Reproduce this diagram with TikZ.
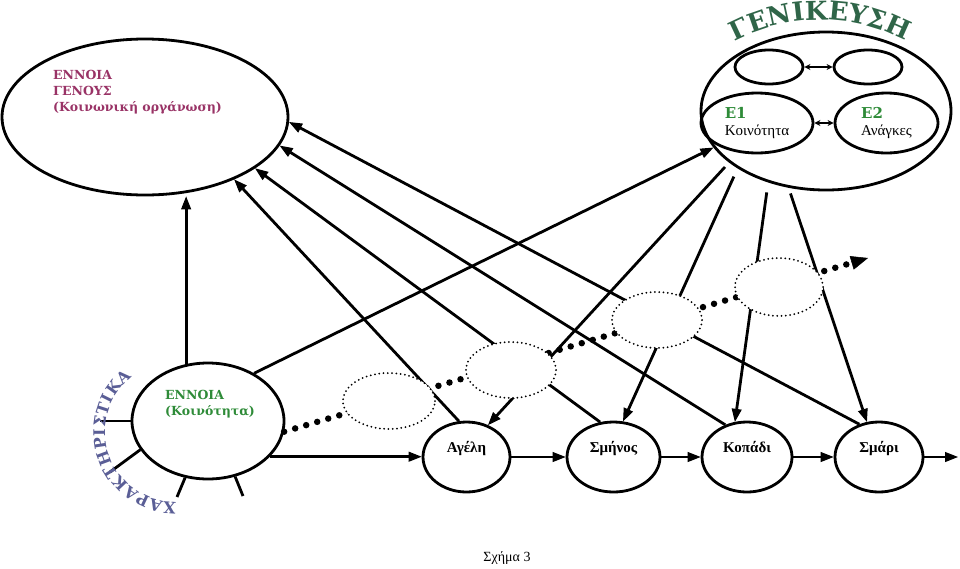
\documentclass[tikz,border=0pt]{standalone}
\usepackage{fontspec}
\setmainfont{Liberation Serif}
\newfontfamily\bkfont{DejaVu Serif}
\usetikzlibrary{shapes.geometric,arrows.meta,decorations.text}

\definecolor{genpurple}{HTML}{993366}
\definecolor{koingreen}{HTML}{2E8B38}
\definecolor{ghgreen}{HTML}{2F6548}
\definecolor{featblue}{HTML}{5A5E96}

\newcommand\ghfont{\bkfont\bfseries\fontsize{26}{26}\selectfont\color{ghgreen}}
\newcommand\featfont{\bkfont\bfseries\fontsize{16}{16}\selectfont\color{featblue}}

\begin{document}
\begin{tikzpicture}[x=1pt,y=-1pt,
    ell/.style={ellipse,draw,line width=2.8pt,inner sep=0pt},
    dotell/.style={ellipse,draw,fill=white,line width=2pt,dash pattern=on 0pt off 4.3pt,
        line cap=round,inner sep=0pt,minimum width=90pt,minimum height=56pt},
    arr/.style={line width=2.8pt,-{Triangle[length=13pt,width=10pt,line width=1pt]}},
    spoke/.style={line width=2.8pt},
    twoway/.style={line width=2pt,{Stealth[length=6pt,width=6pt]}-{Stealth[length=6pt,width=6pt]}},
    kind/.style={ell,minimum height=70pt,font=\fontsize{15}{18}\selectfont\bfseries,
        text height=10pt,text depth=20pt},
    headtext/.style={inner sep=0pt,align=left,anchor=north west,
        font=\bkfont\bfseries\fontsize{12.5}{16}\selectfont}
]
    \useasboundingbox (0,0) rectangle (960,568);

    \node[ell,minimum width=286pt,minimum height=156pt] (gen) at (145,117) {};
    \node[headtext,text=genpurple] (genT) at (53,70.5)
        {ΕΝΝΟΙΑ\\ΓΕΝΟΥΣ\\(Κοινωνική οργάνωση)};

    \node[ell,minimum width=250pt,minimum height=158pt] (ghl) at (826,111) {};
    \node[ell,minimum width=68pt,minimum height=34pt] (ghl1) at (769,67) {};
    \node[ell,minimum width=68pt,minimum height=34pt] (ghl2) at (868,67) {};
    \node[ell,minimum width=112pt,minimum height=60pt,align=left,
        font=\fontsize{15}{17}\selectfont] (e1) at (757,123)
        {{\bkfont\bfseries\color{koingreen}Ε1}\\Κοινότητα};
    \node[ell,minimum width=103pt,minimum height=60pt,align=left,
        font=\fontsize{15}{17}\selectfont] (e2) at (886.5,123)
        {{\bkfont\bfseries\color{koingreen}Ε2}\\Ανάγκες};
    \draw[twoway] (ghl1) -- (ghl2);
    \draw[twoway] (e1) -- (e2);

    \node[ell,minimum width=152pt,minimum height=116pt] (koin) at (208,421) {};
    \node[headtext,text=koingreen] (koinT) at (165,390) {ΕΝΝΟΙΑ\\(Κοινότητα)};

    \node[kind,minimum width=87pt] (agel) at (466.5,457) {Αγέλη};
    \node[kind,minimum width=93pt] (sminos) at (613.5,457) {Σμήνος};
    \node[kind,minimum width=90pt] (kopadi) at (747,457) {Κοπάδι};
    \node[kind,minimum width=88pt] (smari) at (879,457) {Σμάρι};

    \node[font=\fontsize{14}{16}\selectfont] (caption) at (507,558) {Σχήμα 3};

    \coordinate (sp1) at (100,421);
    \coordinate (sp2) at (110,472);
    \coordinate (sp3) at (177,497);
    \coordinate (sp4) at (243,496);
    \coordinate (aend) at (958,457);
    \coordinate (dend) at (868,258);
    \coordinate (gcx) at (820,203);
    \coordinate (ccx) at (175,432);

    \draw[spoke] (koin.180) -- (sp1);
    \draw[spoke] (koin.203) -- (sp2);
    \draw[spoke] (koin.248) -- (sp3);
    \draw[spoke] (koin.296) -- (sp4);

    \draw[arr] (koin.111) -- (koin.111 |- gen.south);
    \draw[arr] (agel.102) -- (gen.-35);
    \draw[arr] (sminos.111) -- (gen.-25);
    \draw[arr] (kopadi.124) -- (gen.-12);
    \draw[arr] (smari.121) -- (gen.-2);

    \draw[arr] (koin.46) -- (ghl.198);
    \draw[arr,shorten <=6pt] (ghl.208) -- (agel.56);
    \draw[arr,shorten <=9pt] (ghl.213) -- (sminos.75);
    \draw[arr,shorten <=10pt] (ghl.231) -- (kopadi.109);
    \draw[arr,shorten <=6pt] (ghl.244) -- (smari.109);

    \draw[arr] (koin.330) -- (koin.330 -| agel.west);
    \draw[arr] (agel) -- (sminos);
    \draw[arr] (sminos) -- (kopadi);
    \draw[arr] (kopadi) -- (smari);
    \draw[arr] (smari) -- (aend);

    \draw[line width=6.5pt,dash pattern=on 0pt off 11.5pt,line cap=round,
        -{Triangle[length=17pt,width=14pt,line width=0.5pt]}] (koin.352) -- (dend);

    \node[dotell,minimum width=92pt] (typ1) at (389,401) {};
    \node[dotell] (typ2) at (511,370) {};
    \node[dotell] (typ3) at (657,320) {};
    \node[dotell,minimum width=88pt,minimum height=58pt] (typ4) at (779,287) {};

    \path[decorate,decoration={text along path,text align=center,
        text={|\ghfont|ΓΕΝΙΚΕΥΣΗ}}]
        (gcx) ++(240:183) arc[start angle=240,end angle=300,radius=183];
    \path[decorate,decoration={text along path,text align=fit to path,
        text={|\featfont|ΧΑΡΑΚΤΗΡΙΣΤΙΚΑ}}]
        (ccx) ++(89:70) arc[start angle=89,end angle=232,radius=70];
\end{tikzpicture}
\end{document}
